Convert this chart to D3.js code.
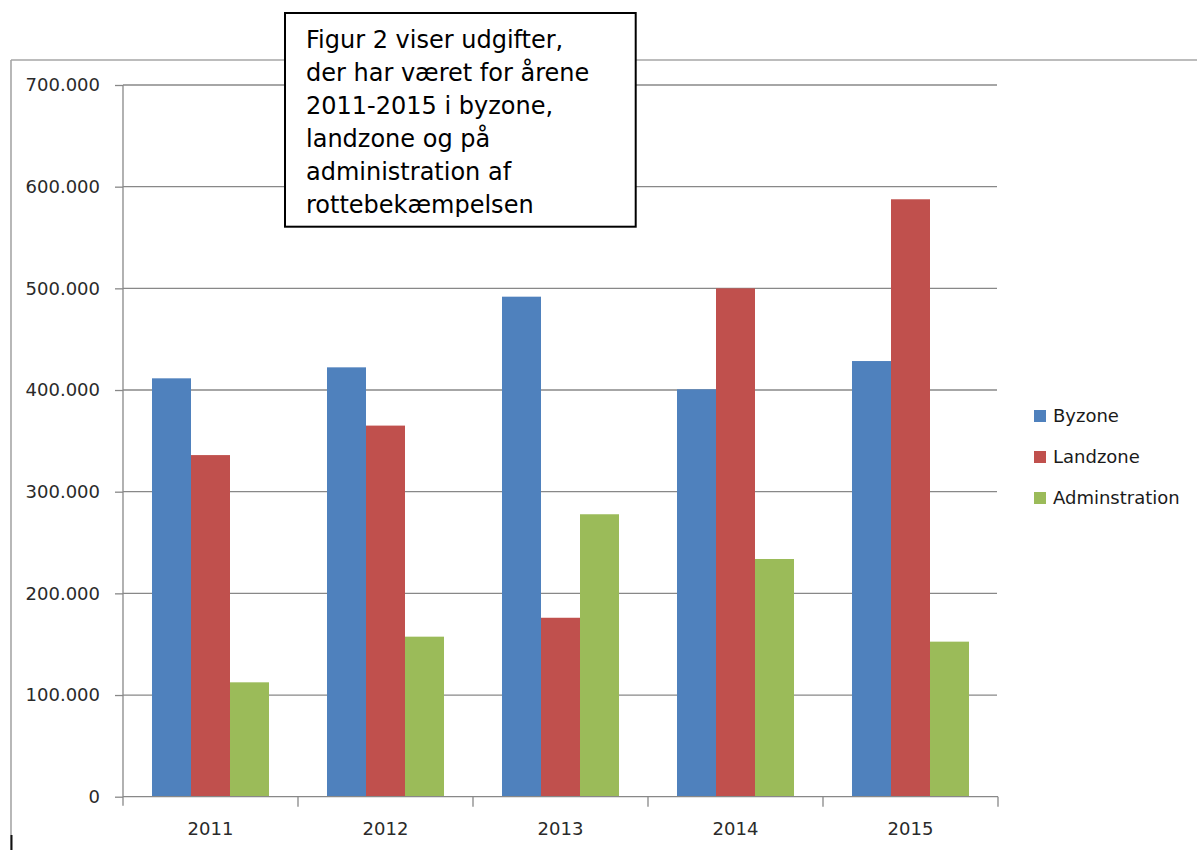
<!DOCTYPE html>
<html>
<head>
<meta charset="utf-8">
<script src="https://cdn.jsdelivr.net/npm/d3@7/dist/d3.min.js"></script>
<style>
  html, body { margin: 0; padding: 0; background: #fff; }
  svg { display: block; }
</style>
</head>
<body>
<svg id="chart" width="1197" height="850"></svg>
<script>
// ---- data ----
const years = ["2011", "2012", "2013", "2014", "2015"];
const seriesNames = ["Byzone", "Landzone", "Adminstration"];
const byzone = [411500, 422300, 491800, 400700, 428500];
const landzone = [336000, 365000, 176000, 500000, 587600];
const administration = [112500, 157400, 277800, 233800, 152500];
const yTicks = [0, 100000, 200000, 300000, 400000, 500000, 600000, 700000];
const noteLines = [
  "Figur 2 viser udgifter,",
  "der har været for årene",
  "2011-2015 i byzone,",
  "landzone og på",
  "administration af",
  "rottebekæmpelsen"
];
const colors = ["#4F81BD", "#C0504D", "#9BBB59"];

(function () {
const seriesValues = [byzone, landzone, administration];
const table = years.map((yr, i) => ({ year: yr, values: seriesValues.map(s => s[i]) }));

const svg = d3.select("#chart");
const FONT = "'DejaVu Sans', Verdana, sans-serif";
const gridColor = "#888888";

// ---- frame ----
svg.append("line").attr("x1", 11).attr("x2", 1197).attr("y1", 60).attr("y2", 60)
  .attr("stroke", "#a6a6a6").attr("stroke-width", 1.6);
svg.append("line").attr("x1", 11).attr("x2", 11).attr("y1", 60).attr("y2", 850)
  .attr("stroke", "#a6a6a6").attr("stroke-width", 1.6);
svg.append("line").attr("x1", 11.5).attr("x2", 11.5).attr("y1", 835).attr("y2", 850)
  .attr("stroke", "#111").attr("stroke-width", 2);

// ---- scales ----
const pLeft = 123, pRight = 998, pTop = 85, pBottom = 796.7;
const x = d3.scaleBand().domain(years).range([pLeft, pRight])
  .paddingInner(0.3314).paddingOuter(0.1657);
const xs = d3.scaleBand().domain(d3.range(seriesNames.length)).range([0, x.bandwidth()]);
const y = d3.scaleLinear().domain([0, 700000]).range([pBottom, pTop]);

const locale = d3.formatLocale({ decimal: ",", thousands: ".", grouping: [3], currency: ["", ""] });
const fmt = locale.format(",");

// ---- gridlines ----
svg.append("g").selectAll("line").data(yTicks.filter(d => d > 0)).join("line")
  .attr("x1", pLeft).attr("x2", pRight - 1)
  .attr("y1", d => y(d)).attr("y2", d => y(d))
  .attr("stroke", gridColor).attr("stroke-width", 1.3);

// ---- bars ----
svg.append("g").selectAll("g").data(table).join("g")
  .attr("transform", d => `translate(${x(d.year)},0)`)
  .selectAll("rect").data(d => d.values.map((v, i) => ({ v, i }))).join("rect")
  .attr("x", d => xs(d.i)).attr("width", xs.bandwidth())
  .attr("y", d => y(d.v)).attr("height", d => y(0) - y(d.v))
  .attr("fill", d => colors[d.i]);

// ---- y axis ----
const yAxis = svg.append("g").attr("transform", `translate(${pLeft},0)`)
  .call(d3.axisLeft(y).tickValues(yTicks).tickFormat(fmt).tickSize(8).tickPadding(15));
yAxis.select(".domain").attr("stroke", gridColor).attr("stroke-width", 1.3)
  .attr("d", `M0,${pTop}V${pBottom + 9}`);
yAxis.selectAll(".tick line").attr("stroke", gridColor).attr("stroke-width", 1.3);
yAxis.selectAll("text").attr("font-family", FONT).attr("font-size", 18).attr("fill", "#2a2a2a");

// ---- x axis ----
const xAxis = svg.append("g").attr("transform", `translate(0,${pBottom})`)
  .call(d3.axisBottom(x).tickSize(0).tickPadding(26));
xAxis.select(".domain").attr("stroke", gridColor).attr("stroke-width", 1.3)
  .attr("d", `M${pLeft},0H${pRight}`);
xAxis.selectAll("text").attr("font-family", FONT).attr("font-size", 18).attr("fill", "#2a2a2a");
const half = (x.step() - x.bandwidth()) / 2;
const bounds = years.map(d => x(d) - half).concat([x(years[years.length - 1]) - half + x.step()]);
xAxis.append("g").selectAll("line").data(bounds.slice(1)).join("line")
  .attr("x1", d => d).attr("x2", d => d).attr("y1", 0).attr("y2", 10)
  .attr("stroke", gridColor).attr("stroke-width", 1.3);

// ---- legend ----
const legend = svg.append("g").attr("transform", "translate(1034,410)");
const li = legend.selectAll("g").data(seriesNames).join("g")
  .attr("transform", (d, i) => `translate(0,${i * 41})`);
li.append("rect").attr("width", 12).attr("height", 12).attr("fill", (d, i) => colors[i]);
li.append("text").attr("x", 19).attr("y", 12).text(d => d)
  .attr("font-family", FONT).attr("font-size", 18).attr("fill", "#1a1a1a");

// ---- note box ----
const defs = svg.append("defs");
defs.append("clipPath").attr("id", "noteClip").append("rect")
  .attr("x", 285).attr("y", 13).attr("width", 351).attr("height", 204);
svg.append("rect").attr("x", 285).attr("y", 13).attr("width", 350.7).attr("height", 213.7)
  .attr("fill", "#fff").attr("stroke", "#000").attr("stroke-width", 2);
svg.append("g").attr("clip-path", "url(#noteClip)").selectAll("text").data(noteLines).join("text")
  .attr("x", 306).attr("y", (d, i) => 48.3 + i * 33).text(d => d)
  .attr("font-family", FONT).attr("font-size", 24).attr("fill", "#000");
})();
</script>
</body>
</html>
